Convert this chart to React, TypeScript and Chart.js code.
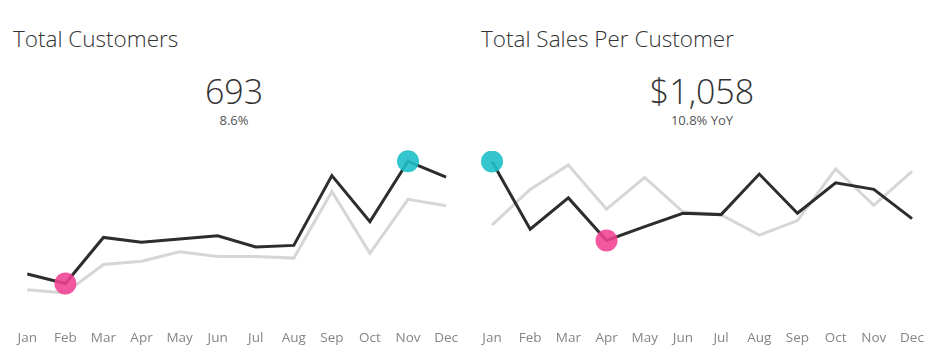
import React, { useEffect, useRef } from "react";
import { Chart, registerables } from "chart.js";

Chart.register(...registerables);

const months = ["Jan", "Feb", "Mar", "Apr", "May", "Jun", "Jul", "Aug", "Sep", "Oct", "Nov", "Dec"];

// Total Customers (monthly) – current year and prior year
const customersCurrent = [29, 23, 52, 49, 51, 53, 46, 47, 91, 62, 100, 90];
const customersPrior = [19, 17, 35, 37, 43, 40, 40, 39, 81, 42, 76, 72];

// Total Sales Per Customer (monthly) – current year and prior year
const salesCurrent = [1272, 932, 1089, 875, 945, 1012, 1005, 1209, 1012, 1165, 1132, 985];
const salesPrior = [952, 1132, 1255, 1032, 1192, 1019, 1005, 902, 975, 1235, 1052, 1222];

const FONT = "'Open Sans', 'Noto Sans', sans-serif";
const PINK = "rgba(240, 64, 146, 0.88)";
const TEAL = "rgba(30, 192, 202, 0.9)";

type PanelProps = {
  current: number[];
  prior: number[];
  yMin: number;
  yMax: number;
  padLeft: number;
  padRight: number;
};

function LineChart({ current, prior, yMin, yMax, padLeft, padRight }: PanelProps) {
  const ref = useRef<HTMLCanvasElement | null>(null);
  useEffect(() => {
    if (!ref.current) return;
    const minIdx = current.indexOf(Math.min(...current));
    const maxIdx = current.indexOf(Math.max(...current));
    const chart = new Chart(ref.current, {
      type: "line",
      data: {
        labels: months,
        datasets: [
          {
            data: current,
            borderColor: "#2d2d2d",
            borderWidth: 3,
            tension: 0,
            pointRadius: (c: any) => (c.dataIndex === minIdx || c.dataIndex === maxIdx ? 11 : 0),
            pointHoverRadius: 0,
            pointBorderWidth: 0,
            pointBackgroundColor: (c: any) => (c.dataIndex === minIdx ? PINK : TEAL),
            pointBorderColor: "rgba(0,0,0,0)",
          },
          {
            data: prior,
            borderColor: "#d6d6d6",
            borderWidth: 3,
            tension: 0,
            pointRadius: 0,
          },
        ],
      },
      options: {
        responsive: false,
        animation: false,
        devicePixelRatio: 1,
        layout: { padding: { top: 10, bottom: 0, left: padLeft, right: padRight } },
        plugins: { legend: { display: false }, tooltip: { enabled: false }, title: { display: false } },
        scales: {
          x: {
            offset: false,
            border: { display: false },
            grid: { display: false, drawTicks: false },
            ticks: {
              autoSkip: false,
              maxRotation: 0,
              padding: 10,
              color: "#858585",
              font: { family: FONT, size: 13.5, weight: "400" },
            },
            afterFit: (s: any) => {
              s.height = 30;
            },
          },
          y: {
            display: false,
            min: yMin,
            max: yMax,
          },
        },
      },
    });
    return () => chart.destroy();
  }, []);
  return <canvas ref={ref} width={468} height={210} style={{ display: "block", width: 468, height: 210 }} />;
}

const textBase: React.CSSProperties = {
  position: "absolute",
  fontFamily: FONT,
  fontWeight: 350,
  whiteSpace: "nowrap",
  margin: 0,
};

function Panel({
  left,
  title,
  value,
  sub,
  children,
}: {
  left: number;
  title: string;
  value: string;
  sub: string;
  children: React.ReactNode;
}) {
  return (
    <div style={{ position: "absolute", left, top: 0, width: 468, height: 360 }}>
      <div style={{ ...textBase, left: 13, top: 28, fontSize: 22.5, lineHeight: "22px", color: "#333" }}>{title}</div>
      <div
        style={{
          ...textBase,
          left: 0,
          width: 468,
          textAlign: "center",
          top: 75,
          fontSize: 34,
          lineHeight: "33px",
          color: "#333",
        }}
      >
        {value}
      </div>
      <div
        style={{
          ...textBase,
          fontWeight: 400,
          left: 0,
          width: 468,
          textAlign: "center",
          top: 114,
          fontSize: 13,
          lineHeight: "13px",
          color: "#555",
        }}
      >
        {sub}
      </div>
      <div style={{ position: "absolute", left: 0, top: 140 }}>{children}</div>
    </div>
  );
}

export default function App() {
  return (
    <div style={{ position: "absolute", left: 0, top: 0, width: 936, height: 360, background: "#fff", overflow: "hidden" }}>
      <Panel left={0} title="Total Customers" value="693" sub="8.6%">
        <LineChart current={customersCurrent} prior={customersPrior} yMin={0} yMax={107.1} padLeft={27.3} padRight={21.3} />
      </Panel>
      <Panel left={468} title="Total Sales Per Customer" value="$1,058" sub="10.8% YoY">
        <LineChart current={salesCurrent} prior={salesPrior} yMin={475} yMax={1325} padLeft={24} padRight={24} />
      </Panel>
    </div>
  );
}
